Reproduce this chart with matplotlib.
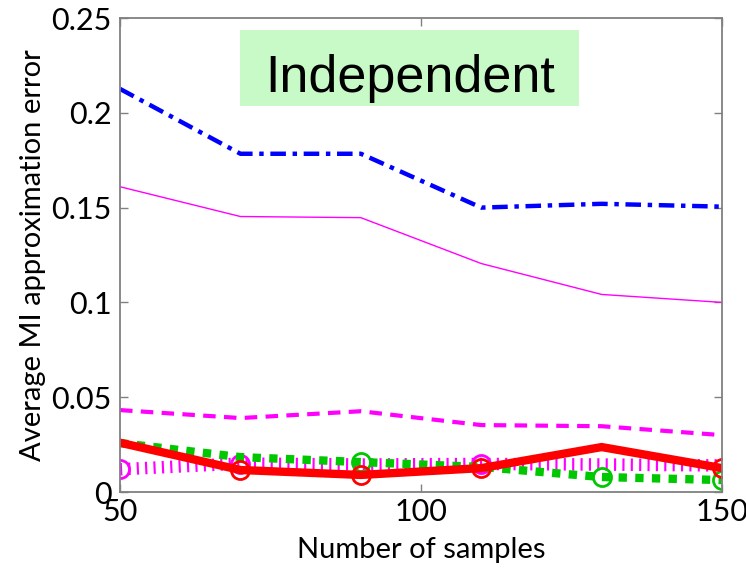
import matplotlib
matplotlib.use("Agg")
import matplotlib.pyplot as plt
from matplotlib.patches import Rectangle

plt.rcParams['font.family'] = ['Lato', 'DejaVu Sans']

samples = [50, 70, 90, 110, 130, 150]

err_dashdot_blue = [0.2126, 0.1784, 0.1784, 0.1500, 0.1520, 0.1505]
err_thin_magenta = [0.1610, 0.1453, 0.1447, 0.1205, 0.1042, 0.1000]
err_dashed_magenta = [0.0432, 0.0390, 0.0426, 0.0353, 0.0347, 0.0300]
err_striped_magenta = [0.0120, 0.0150, 0.0145, 0.0148, 0.0145, 0.0140]
err_dotted_green = [0.0258, 0.0184, 0.0158, 0.0132, 0.0079, 0.0063]
err_solid_red = [0.0260, 0.0116, 0.0090, 0.0126, 0.0237, 0.0126]

marks_striped_magenta = [0, 1, 3]
marks_dotted_green = [2, 4, 5]
marks_solid_red = [1, 2, 3, 5]

xticks = [50, 100, 150]
yticks = [0, 0.05, 0.1, 0.15, 0.2, 0.25]
ytick_labels = ['0', '0.05', '0.1', '0.15', '0.2', '0.25']

fig = plt.figure(figsize=(7.46, 5.68), dpi=100)
ax = fig.add_axes([0.1609, 0.1338, 0.807, 0.8345])

ax.plot(samples, err_dashdot_blue, color='#0000ff', lw=3.2,
        linestyle=(0, (3.5, 1.5, 1, 1.5)))
ax.plot(samples, err_thin_magenta, color='#ff00ff', lw=1.0)
ax.plot(samples, err_dashed_magenta, color='#ff00ff', lw=3.0,
        linestyle=(0, (3, 2)))
ax.plot(samples, err_striped_magenta, color='#ff00ff', lw=9,
        linestyle=(0, (0.17, 0.5)), dash_capstyle='butt')
ax.plot(samples, err_striped_magenta, color='none', lw=0, marker='o',
        markersize=13, markerfacecolor='none', markeredgecolor='#ff00ff',
        markeredgewidth=2, markevery=marks_striped_magenta)
ax.plot(samples, err_dotted_green, color='#00c800', lw=6,
        linestyle=(0, (1, 1)), dash_capstyle='butt', marker='o',
        markersize=13, markerfacecolor='none', markeredgecolor='#00c800',
        markeredgewidth=2, markevery=marks_dotted_green)
ax.plot(samples, err_solid_red, color='#ff0000', lw=6, marker='o',
        markersize=13, markerfacecolor='none', markeredgecolor='#ff0000',
        markeredgewidth=2, markevery=marks_solid_red, solid_joinstyle='miter')

ax.set_xlim(50, 150)
ax.set_ylim(0, 0.25)
ax.set_xticks(xticks)
ax.set_yticks(yticks)
ax.set_yticklabels(ytick_labels)
ax.tick_params(direction='in', length=6, width=1, color='#808080',
               labelsize=22, top=True, right=True, pad=4)
ax.tick_params(axis='y', pad=6)
for s in ax.spines.values():
    s.set_color('#808080')
    s.set_linewidth(1.3)

ax.set_xlabel('Number of samples', fontsize=21, labelpad=8)
ax.set_ylabel('Average MI approximation error', fontsize=21, labelpad=4)

# Title banner
ax.add_patch(Rectangle((0.1993, 0.8143), 0.5631, 0.1603,
                       transform=ax.transAxes, facecolor='#c8fac8',
                       edgecolor='none', zorder=5))
ax.text(0.4817, 0.8439, 'Independent', transform=ax.transAxes,
        fontsize=37.5, family=['Liberation Sans', 'DejaVu Sans'],
        ha='center', va='baseline', zorder=6)

fig.savefig('out.png', dpi=100)
